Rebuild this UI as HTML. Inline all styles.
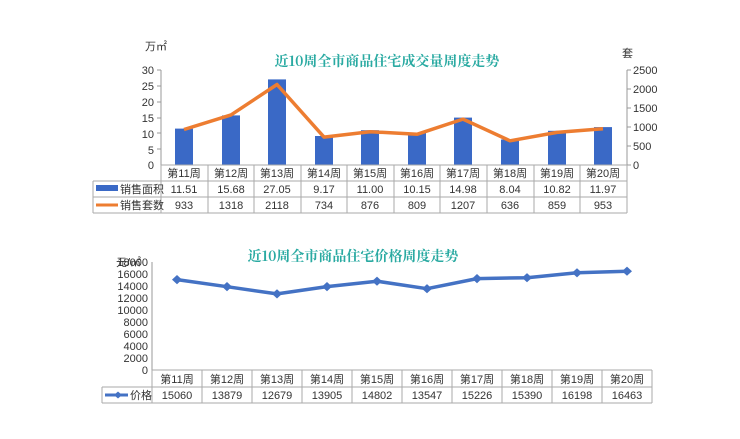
<!DOCTYPE html>
<html><head><meta charset="utf-8"><style>
body{margin:0;background:#fff;}
svg{display:block;font-family:"Liberation Sans","Noto Sans CJK SC",sans-serif;}
</style></head><body>
<svg width="740" height="439" viewBox="0 0 740 439" xmlns="http://www.w3.org/2000/svg">
<rect width="740" height="439" fill="#fff"/>
<!-- TOP CHART -->
<text x="145" y="50" font-size="11" fill="#333">万㎡</text>
<text x="622" y="57" font-size="11" fill="#333">套</text>
<text x="387" y="66" font-size="14" font-weight="bold" fill="#2aaaa2" text-anchor="middle" font-family="Noto Serif CJK SC, serif">近10周全市商品住宅成交量周度走势</text>
<g font-size="11" fill="#333" text-anchor="end">
<text x="154" y="74">30</text><text x="154" y="90">25</text><text x="154" y="106">20</text>
<text x="154" y="122">15</text><text x="154" y="138">10</text><text x="154" y="154">5</text><text x="154" y="169">0</text>
</g>
<g font-size="11" fill="#333">
<text x="633" y="74">2500</text><text x="633" y="93">2000</text><text x="633" y="112">1500</text>
<text x="633" y="131">1000</text><text x="633" y="150">500</text><text x="633" y="169">0</text>
</g>
<g stroke="#999" stroke-width="1">
<line x1="161" y1="70" x2="161" y2="165"/><line x1="157" y1="70" x2="161" y2="70"/><line x1="157" y1="86" x2="161" y2="86"/><line x1="157" y1="102" x2="161" y2="102"/><line x1="157" y1="118" x2="161" y2="118"/><line x1="157" y1="133" x2="161" y2="133"/><line x1="157" y1="149" x2="161" y2="149"/>
<line x1="627" y1="70" x2="627" y2="165"/><line x1="627" y1="70" x2="631" y2="70"/><line x1="627" y1="89" x2="631" y2="89"/><line x1="627" y1="108" x2="631" y2="108"/><line x1="627" y1="127" x2="631" y2="127"/><line x1="627" y1="146" x2="631" y2="146"/><line x1="627" y1="165" x2="631" y2="165"/>
</g>
<g fill="#3a69c6">
<rect x="175" y="128.6" width="18" height="36.4"/>
<rect x="222" y="115.4" width="18" height="49.6"/>
<rect x="268" y="79.4" width="18" height="85.6"/>
<rect x="315" y="136" width="18" height="29"/>
<rect x="361" y="130.2" width="18" height="34.8"/>
<rect x="408" y="132.9" width="18" height="32.1"/>
<rect x="454" y="117.6" width="18" height="47.4"/>
<rect x="501" y="139.5" width="18" height="25.5"/>
<rect x="548" y="130.8" width="18" height="34.2"/>
<rect x="594" y="127.1" width="18" height="37.9"/>
</g>
<polyline fill="none" stroke="#ed7d31" stroke-width="3.5" stroke-linejoin="round" points="184,129.5 231,114.9 277,84.5 324,137.1 370,131.7 417,134.3 463,119.1 510,140.8 557,132.4 603,128.8"/>
<!-- top table -->
<g stroke="#aaa" stroke-width="1" fill="none">
<line x1="161" y1="165" x2="627" y2="165"/>
<line x1="93" y1="181" x2="627" y2="181"/>
<line x1="93" y1="197" x2="627" y2="197"/>
<line x1="93" y1="213" x2="627" y2="213"/>
<line x1="93" y1="181" x2="93" y2="213"/>
<line x1="161" y1="165" x2="161" y2="213"/>
<line x1="208" y1="165" x2="208" y2="213"/><line x1="254" y1="165" x2="254" y2="213"/><line x1="301" y1="165" x2="301" y2="213"/><line x1="347" y1="165" x2="347" y2="213"/><line x1="394" y1="165" x2="394" y2="213"/><line x1="440" y1="165" x2="440" y2="213"/><line x1="487" y1="165" x2="487" y2="213"/><line x1="534" y1="165" x2="534" y2="213"/><line x1="580" y1="165" x2="580" y2="213"/><line x1="627" y1="165" x2="627" y2="213"/>
</g>
<rect x="96" y="185" width="22" height="6" fill="#3a69c6"/>
<rect x="96" y="203.5" width="22" height="3" fill="#ed7d31"/>
<g font-size="11" fill="#333">
<text x="120" y="193">销售面积</text><text x="120" y="209">销售套数</text>
</g>
<g font-size="11" fill="#333" text-anchor="middle">
<text x="184" y="177">第11周</text><text x="231" y="177">第12周</text><text x="277" y="177">第13周</text><text x="324" y="177">第14周</text><text x="370" y="177">第15周</text><text x="417" y="177">第16周</text><text x="463" y="177">第17周</text><text x="510" y="177">第18周</text><text x="557" y="177">第19周</text><text x="603" y="177">第20周</text>
<text x="184" y="193">11.51</text><text x="231" y="193">15.68</text><text x="277" y="193">27.05</text><text x="324" y="193">9.17</text><text x="370" y="193">11.00</text><text x="417" y="193">10.15</text><text x="463" y="193">14.98</text><text x="510" y="193">8.04</text><text x="557" y="193">10.82</text><text x="603" y="193">11.97</text>
<text x="184" y="209">933</text><text x="231" y="209">1318</text><text x="277" y="209">2118</text><text x="324" y="209">734</text><text x="370" y="209">876</text><text x="417" y="209">809</text><text x="463" y="209">1207</text><text x="510" y="209">636</text><text x="557" y="209">859</text><text x="603" y="209">953</text>
</g>
<!-- BOTTOM CHART -->
<text x="353" y="261" font-size="14" font-weight="bold" fill="#2aaaa2" text-anchor="middle" font-family="Noto Serif CJK SC, serif">近10周全市商品住宅价格周度走势</text>
<text x="116" y="266" font-size="11" fill="#333">元/㎡</text>
<g font-size="11" fill="#333" text-anchor="end">
<text x="148" y="266">18000</text><text x="148" y="278">16000</text><text x="148" y="290">14000</text><text x="148" y="302">12000</text><text x="148" y="314">10000</text><text x="148" y="326">8000</text><text x="148" y="338">6000</text><text x="148" y="350">4000</text><text x="148" y="362">2000</text><text x="148" y="374">0</text>
</g>
<g stroke="#999">
<line x1="152" y1="262" x2="152" y2="370"/>
</g>
<polyline fill="none" stroke="#4472c4" stroke-width="3.5" stroke-linejoin="round" points="177,279.6 227,286.7 277,293.9 327,286.6 377,281.2 427,288.7 477,278.6 527,277.7 577,272.8 627,271.2"/>
<g fill="#4472c4">
<path d="M177 275l5 4.6-5 4.6-5-4.6z"/><path d="M227 282l5 4.6-5 4.6-5-4.6z"/><path d="M277 289.3l5 4.6-5 4.6-5-4.6z"/><path d="M327 282l5 4.6-5 4.6-5-4.6z"/><path d="M377 276.6l5 4.6-5 4.6-5-4.6z"/><path d="M427 284.1l5 4.6-5 4.6-5-4.6z"/><path d="M477 274l5 4.6-5 4.6-5-4.6z"/><path d="M527 273.1l5 4.6-5 4.6-5-4.6z"/><path d="M577 268.2l5 4.6-5 4.6-5-4.6z"/><path d="M627 266.6l5 4.6-5 4.6-5-4.6z"/>
</g>
<g stroke="#aaa" stroke-width="1" fill="none">
<line x1="152" y1="370" x2="652" y2="370"/>
<line x1="102" y1="387" x2="652" y2="387"/>
<line x1="102" y1="403" x2="652" y2="403"/>
<line x1="102" y1="387" x2="102" y2="403"/>
<line x1="152" y1="370" x2="152" y2="403"/><line x1="202" y1="370" x2="202" y2="403"/><line x1="252" y1="370" x2="252" y2="403"/><line x1="302" y1="370" x2="302" y2="403"/><line x1="352" y1="370" x2="352" y2="403"/><line x1="402" y1="370" x2="402" y2="403"/><line x1="452" y1="370" x2="452" y2="403"/><line x1="502" y1="370" x2="502" y2="403"/><line x1="552" y1="370" x2="552" y2="403"/><line x1="602" y1="370" x2="602" y2="403"/><line x1="652" y1="370" x2="652" y2="403"/>
</g>
<line x1="105" y1="395" x2="128" y2="395" stroke="#4472c4" stroke-width="3"/>
<path d="M118 391.5l4 3.5-4 3.5-4-3.5z" fill="#4472c4"/>
<text x="130" y="399" font-size="11" fill="#333">价格</text>
<g font-size="11" fill="#333" text-anchor="middle">
<text x="177" y="383">第11周</text><text x="227" y="383">第12周</text><text x="277" y="383">第13周</text><text x="327" y="383">第14周</text><text x="377" y="383">第15周</text><text x="427" y="383">第16周</text><text x="477" y="383">第17周</text><text x="527" y="383">第18周</text><text x="577" y="383">第19周</text><text x="627" y="383">第20周</text>
<text x="177" y="399">15060</text><text x="227" y="399">13879</text><text x="277" y="399">12679</text><text x="327" y="399">13905</text><text x="377" y="399">14802</text><text x="427" y="399">13547</text><text x="477" y="399">15226</text><text x="527" y="399">15390</text><text x="577" y="399">16198</text><text x="627" y="399">16463</text>
</g>
</svg>
</body></html>
